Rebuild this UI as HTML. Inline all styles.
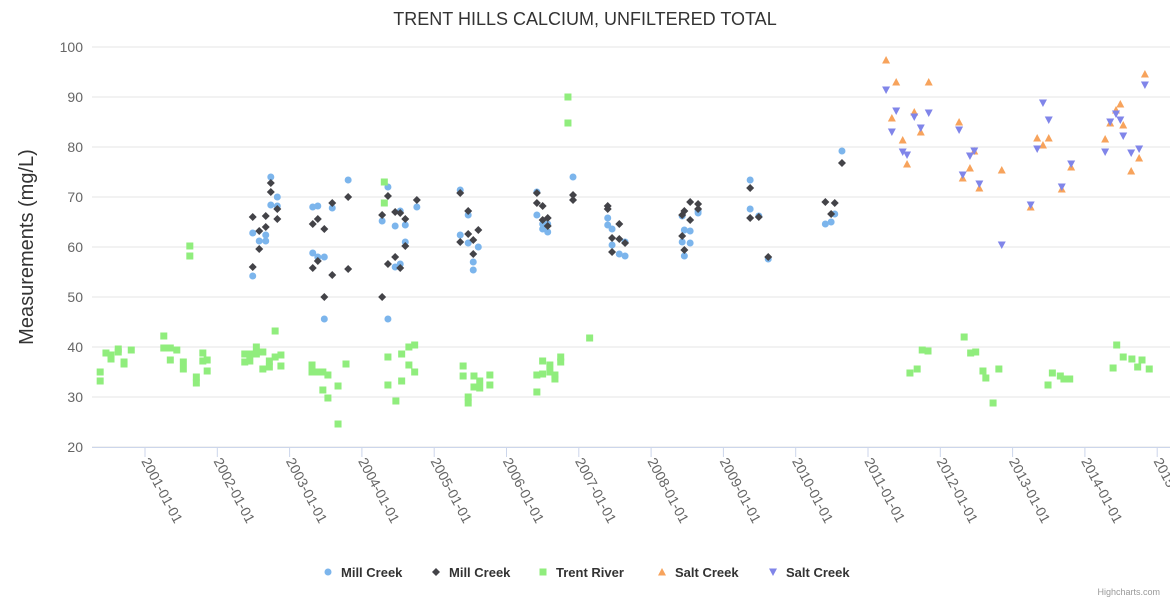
<!DOCTYPE html>
<html><head><meta charset="utf-8"><style>
body{margin:0;background:#fff;font-family:"Liberation Sans",Arial,sans-serif}
svg{display:block}
</style></head><body>
<svg id="chart" width="1170" height="600" xmlns="http://www.w3.org/2000/svg">
<text x="585" y="25" text-anchor="middle" font-size="18" fill="#333">TRENT HILLS CALCIUM, UNFILTERED TOTAL</text>
<text transform="translate(33,247) rotate(-90)" text-anchor="middle" font-size="20" fill="#333">Measurements (mg/L)</text>
<g id="grid"></g><g id="xaxis"></g><g id="marks"></g><g id="legend"></g>
<text x="1160" y="595" text-anchor="end" font-size="9" fill="#999">Highcharts.com</text>
</svg>
<script>
const yTicks=[20,30,40,50,60,70,80,90,100];
const xTickYears=[2001,2002,2003,2004,2005,2006,2007,2008,2009,2010,2011,2012,2013,2014,2015];
const seriesNames=["Mill Creek","Mill Creek","Trent River","Salt Creek","Salt Creek"];
const millCircle=[[2002.49,62.8],[2002.49,54.2],[2002.58,61.2],[2002.67,62.4],[2002.67,61.2],[2002.74,74],[2002.74,68.4],[2002.83,70],[2002.83,68.2],[2003.32,68],[2003.39,68.2],[2003.32,58.8],[2003.39,58],[2003.48,58],[2003.48,45.6],[2003.59,67.8],[2003.81,73.4],[2004.28,65.2],[2004.36,72],[2004.36,45.6],[2004.46,64.2],[2004.46,56],[2004.53,67.2],[2004.53,56.6],[2004.60,64.4],[2004.60,61],[2004.76,68],[2005.36,71.4],[2005.47,66.4],[2005.36,62.4],[2005.47,60.8],[2005.61,60],[2005.54,57],[2005.54,55.4],[2006.42,71],[2006.42,66.4],[2006.50,64.6],[2006.57,64.6],[2006.50,63.6],[2006.57,63],[2006.92,74],[2007.40,65.8],[2007.40,64.4],[2007.46,63.6],[2007.46,60.4],[2007.56,58.6],[2007.64,61],[2007.64,58.2],[2008.43,66.2],[2008.46,63.4],[2008.54,63.2],[2008.43,61],[2008.54,60.8],[2008.46,58.2],[2008.65,66.8],[2008.65,67.2],[2009.37,73.4],[2009.37,67.6],[2009.49,66.2],[2009.62,57.6],[2010.41,64.6],[2010.49,65],[2010.54,66.6],[2010.64,79.2]];
const millDiamond=[[2002.49,66],[2002.49,56],[2002.58,63.2],[2002.58,59.6],[2002.67,66.2],[2002.67,64],[2002.74,72.8],[2002.74,71],[2002.83,67.6],[2002.83,65.6],[2003.32,64.6],[2003.32,55.8],[2003.39,65.6],[2003.39,57.2],[2003.48,63.6],[2003.48,50],[2003.59,68.8],[2003.59,54.4],[2003.81,70],[2003.81,55.6],[2004.28,66.4],[2004.28,50],[2004.36,70.2],[2004.36,56.6],[2004.46,67],[2004.46,58],[2004.53,66.8],[2004.53,55.8],[2004.60,65.6],[2004.60,60.2],[2004.76,69.4],[2005.36,70.8],[2005.36,61],[2005.47,67.2],[2005.47,62.6],[2005.54,61.4],[2005.54,58.6],[2005.61,63.4],[2006.42,70.8],[2006.42,68.8],[2006.50,68.2],[2006.50,65.4],[2006.57,65.8],[2006.57,64.2],[2006.92,70.4],[2006.92,69.4],[2007.40,68.2],[2007.40,67.6],[2007.56,64.6],[2007.46,61.8],[2007.56,61.6],[2007.64,60.8],[2007.46,59],[2008.43,66.4],[2008.46,67.2],[2008.54,69],[2008.65,68.6],[2008.65,67.6],[2008.54,65.4],[2008.43,62.2],[2008.46,59.4],[2009.37,71.8],[2009.37,65.8],[2009.49,66],[2009.62,58],[2010.41,69],[2010.54,68.8],[2010.49,66.6],[2010.64,76.8]];
const trentRiver=[[2000.38,35],[2000.38,33.2],[2000.46,38.8],[2000.53,38.4],[2000.53,37.6],[2000.63,39.6],[2000.63,39],[2000.71,37],[2000.71,36.6],[2000.81,39.4],[2001.26,42.2],[2001.26,39.8],[2001.35,39.8],[2001.35,37.4],[2001.44,39.4],[2001.53,37],[2001.53,35.6],[2001.62,60.2],[2001.62,58.2],[2001.71,34],[2001.71,32.8],[2001.80,38.8],[2001.80,37.2],[2001.86,37.4],[2001.86,35.2],[2002.38,38.6],[2002.38,37],[2002.45,37.2],[2002.45,38.6],[2002.54,40],[2002.54,38.6],[2002.63,39],[2002.63,35.6],[2002.72,37.2],[2002.72,36],[2002.80,43.2],[2002.80,38],[2002.88,38.4],[2002.88,36.2],[2003.31,36.4],[2003.31,35],[2003.39,35],[2003.46,35],[2003.46,31.4],[2003.53,34.4],[2003.53,29.8],[2003.67,32.2],[2003.67,24.6],[2003.78,36.6],[2004.31,73],[2004.31,68.8],[2004.36,38],[2004.36,32.4],[2004.47,29.2],[2004.55,38.6],[2004.55,33.2],[2004.65,40],[2004.65,36.4],[2004.73,40.4],[2004.73,35],[2005.40,36.2],[2005.40,34.2],[2005.47,30],[2005.47,28.8],[2005.55,34.2],[2005.55,32],[2005.63,33.2],[2005.63,31.8],[2005.77,34.4],[2005.77,32.4],[2006.42,34.4],[2006.42,31],[2006.50,37.2],[2006.50,34.6],[2006.60,36.4],[2006.60,35],[2006.67,34.4],[2006.67,33.6],[2006.75,38],[2006.75,37],[2006.85,90],[2006.85,84.8],[2007.15,41.8],[2011.58,34.8],[2011.68,35.6],[2011.75,39.4],[2011.83,39.2],[2012.33,42],[2012.42,38.8],[2012.49,39],[2012.59,35.2],[2012.63,33.8],[2012.73,28.8],[2012.81,35.6],[2013.49,32.4],[2013.55,34.8],[2013.66,34.2],[2013.71,33.6],[2013.79,33.6],[2014.39,35.8],[2014.44,40.4],[2014.53,38],[2014.65,37.6],[2014.73,36],[2014.79,37.4],[2014.89,35.6]];
const saltUp=[[2011.25,97.4],[2011.39,93],[2011.84,93],[2011.33,85.8],[2011.64,87],[2011.73,83],[2011.48,81.4],[2011.54,76.6],[2012.26,85],[2012.47,79.2],[2012.41,75.8],[2012.31,73.8],[2012.54,71.8],[2012.85,75.4],[2013.25,68],[2013.34,81.8],[2013.50,81.8],[2013.42,80.4],[2013.81,76],[2013.68,71.6],[2014.28,81.6],[2014.35,84.8],[2014.43,87.4],[2014.49,88.6],[2014.53,84.4],[2014.75,77.8],[2014.64,75.2],[2014.83,94.6]];
const saltDown=[[2011.25,91.4],[2011.39,87.2],[2011.64,86],[2011.84,86.8],[2011.33,83],[2011.73,83.8],[2011.48,79],[2011.54,78.4],[2012.26,83.4],[2012.41,78.2],[2012.47,79.2],[2012.31,74.4],[2012.54,72.6],[2012.85,60.4],[2013.25,68.4],[2013.42,88.8],[2013.50,85.4],[2013.34,79.6],[2013.81,76.6],[2013.68,72],[2014.28,79],[2014.35,85],[2014.43,86.6],[2014.49,85.4],[2014.53,82.2],[2014.64,78.8],[2014.75,79.6],[2014.83,92.4]];
const NS="http://www.w3.org/2000/svg";
const L=92,R=1170,T=47,B=447;
function xs(yr){return 145+(yr-2001)*72.3;}
function ys(v){return B-(v-20)*(B-T)/80;}
function mk(tag,attrs,parent){const e=document.createElementNS(NS,tag);for(const k in attrs)e.setAttribute(k,attrs[k]);parent.appendChild(e);return e;}
const grid=document.getElementById('grid');
yTicks.forEach(t=>{
  const ln=mk('line',{x1:L,x2:R,y1:ys(t),y2:ys(t),stroke:'#e6e6e6','stroke-width':1},grid);
  
  
  const tx=mk('text',{x:83,y:ys(t)+5,'text-anchor':'end','font-size':14,fill:'#666'},grid);
  tx.textContent=t;
  
  
});
const xa=document.getElementById('xaxis');
const axl=mk('line',{x1:L,x2:R,y1:B+0.5,y2:B+0.5,stroke:'#ccd6eb'},xa);


xTickYears.forEach(y=>{
  const x=xs(y);
  const tk=mk('line',{x1:x,x2:x,y1:B,y2:B+10,stroke:'#ccd6eb'},xa);
  
  
  const tx=mk('text',{transform:`translate(${x-4},${B+14}) rotate(62)`,'font-size':14,fill:'#666'},xa);
  tx.textContent=y+'-01-01';
  
  
});
const marks=document.getElementById('marks');
function circle(g,x,y,c){return mk('circle',{cx:x,cy:y,r:3.5,fill:c},g);}
function diamond(g,x,y,c){return mk('path',{d:`M${x} ${y-4}L${x+4} ${y}L${x} ${y+4}L${x-4} ${y}Z`,fill:c},g);}
function square(g,x,y,c){return mk('rect',{x:x-3.5,y:y-3.5,width:7,height:7,fill:c},g);}
function tri(g,x,y,c){return mk('path',{d:`M${x} ${y-4}L${x+4} ${y+3.5}L${x-4} ${y+3.5}Z`,fill:c},g);}
function triD(g,x,y,c){return mk('path',{d:`M${x-4} ${y-3.5}L${x+4} ${y-3.5}L${x} ${y+4}Z`,fill:c},g);}
const series=[[millCircle,circle,'#7cb5ec','mill-creek-point'],[millDiamond,diamond,'#434348','mill-creek-diamond-point'],[trentRiver,square,'#90ed7d','trent-river-point'],[saltUp,tri,'#f7a35c','salt-creek-up-point'],[saltDown,triD,'#8085e9','salt-creek-down-point']];
series.forEach(([data,fn,c,nm])=>{
  const g=mk('g',{},marks);
  data.forEach(([yr,v])=>{
    const el=fn(g,xs(yr),ys(v),c);
    
    
  });
});
const lg=document.getElementById('legend');
const lx=[328,436,543,662,773];
seriesNames.forEach((n,i)=>{
  const g=mk('g',{},lg);
  
  
  series[i][1](g,lx[i],572,series[i][2]);
  const t=mk('text',{x:lx[i]+13,y:577,'font-size':13,'font-weight':'bold',fill:'#333'},g);
  t.textContent=n;
});
</script>
</body></html>
